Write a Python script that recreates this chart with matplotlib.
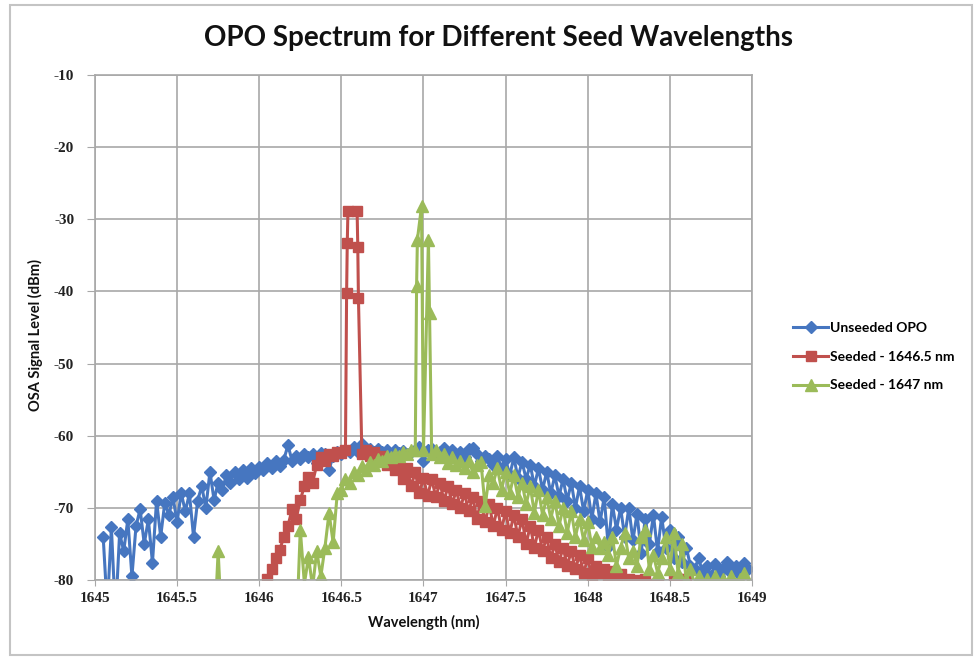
import matplotlib
matplotlib.use("Agg")
import matplotlib.pyplot as plt
import numpy as np
from matplotlib.patches import Rectangle

# OSA samples, every 0.025 nm
step_nm = 0.025

unseeded_start = 1645.05
unseeded_dbm = [
    -74.0, -84.0, -72.7, -85.0, -73.5, -76.0, -71.6, -79.5,   # 1645.05
    -72.5, -70.2, -75.0, -71.6, -77.6, -69.0, -74.0, -69.3,   # 1645.25
    -71.0, -68.5, -72.0, -67.9, -70.5, -68.0, -74.0, -69.0,   # 1645.45
    -67.0, -70.0, -65.0, -68.9, -66.5, -67.5, -65.5, -66.5,   # 1645.65
    -65.0, -66.0, -64.8, -65.8, -64.5, -65.2, -64.3, -64.8,   # 1645.85
    -63.8, -64.5, -63.5, -64.2, -63.3, -61.3, -63.5, -62.8,   # 1646.05
    -63.2, -62.5, -63.0, -62.6, -63.8, -62.4, -62.5, -64.7,   # 1646.25
    -62.8, -62.3, -62.6, -62.0, -62.3, -61.6, -62.2, -61.2,   # 1646.45
    -62.0, -61.8, -62.3, -61.8, -62.2, -62.0, -62.5, -62.0,   # 1646.65
    -62.4, -62.1, -62.6, -62.2, -62.0, -61.5, -63.5, -62.0,   # 1646.85
    -61.8, -62.5, -62.3, -61.7, -62.5, -62.0, -62.8, -62.3,   # 1647.05
    -63.0, -61.8, -61.7, -62.5, -63.5, -62.8, -63.2, -64.0,   # 1647.25
    -62.8, -64.5, -63.2, -65.5, -63.0, -65.8, -63.6, -66.0,   # 1647.45
    -64.0, -67.0, -64.5, -67.5, -65.0, -68.0, -65.5, -68.4,   # 1647.65
    -66.0, -69.0, -66.5, -70.0, -67.0, -70.5, -67.5, -71.5,   # 1647.85
    -68.0, -72.0, -68.5, -75.4, -69.5, -73.0, -70.0, -74.0,   # 1648.05
    -70.0, -74.5, -70.8, -76.2, -71.5, -75.0, -71.0, -76.0,   # 1648.25
    -71.2, -75.5, -73.0, -77.0, -74.0, -77.5, -75.5, -78.0,   # 1648.45
    -78.5, -77.0, -79.0, -78.0, -79.5, -77.8, -79.5, -78.5,   # 1648.65
    -77.5, -79.0, -78.0, -79.3, -77.6, -78.5,                 # 1648.85
]

seed1_start = 1646.05
seed1_dbm = [
    -79.8, -78.5, -77.0, -75.8, -74.0, -72.5, -70.2, -71.5,   # 1646.05
    -68.9, -67.0, -65.7, -66.5, -64.0, -62.9, -63.5, -62.5,   # 1646.25
    -62.8, -62.2, -62.4, -62.0, -62.0, -62.0, -62.0, -62.5,   # 1646.45
    -62.0, -62.8, -62.3, -63.2, -62.8, -64.0, -63.5, -64.8,   # 1646.65
    -64.0, -66.0, -64.5, -67.0, -65.0, -68.0, -65.8, -68.4,   # 1646.85
    -66.0, -68.5, -66.5, -69.0, -67.0, -69.5, -67.5, -70.0,   # 1647.05
    -68.0, -70.5, -68.5, -71.5, -69.0, -72.0, -69.5, -72.5,   # 1647.25
    -70.0, -73.0, -70.5, -73.5, -71.0, -74.0, -71.5, -75.0,   # 1647.45
    -72.5, -75.5, -73.0, -76.0, -74.0, -77.0, -75.0, -77.5,   # 1647.65
    -75.5, -78.0, -76.0, -78.5, -76.5, -79.0, -77.0, -79.5,   # 1647.85
    -78.0, -79.0, -78.5, -79.5, -78.8, -80.0, -79.2, -80.5,   # 1648.05
    -79.8, -80.5, -80.0, -81.0, -79.8, -80.5, -81.0, -80.5,   # 1648.25
    -81.0, -82.0, -81.5, -80.0, -79.8, -80.2, -79.9, -83.0,   # 1648.45
]
seed1_peak_nm = [1646.532, 1646.536, 1646.540, 1646.596, 1646.600, 1646.604]
seed1_peak_dbm = [-40.2, -33.3, -28.9, -28.9, -33.8, -40.9]

seed2_start = 1645.65
seed2_dbm = [
    -90.0, -90.0, -90.0, -88.0, -76.0, -88.0, -90.0, -90.0,   # 1645.65
    -90.0, -90.0, -90.0, -90.0, -90.0, -90.0, -90.0, -90.0,   # 1645.85
    -90.0, -90.0, -90.0, -90.0, -90.0, -90.0, -90.0, -88.0,   # 1646.05
    -73.0, -80.5, -76.8, -81.0, -76.0, -79.5, -75.5, -70.7,   # 1646.25
    -74.8, -68.0, -67.5, -66.0, -66.5, -65.0, -65.5, -64.2,   # 1646.45
    -64.8, -63.7, -64.0, -63.2, -63.5, -62.8, -63.0, -62.5,   # 1646.65
    -62.8, -62.2, -62.6, -62.0, -62.0, -62.0, -62.0, -62.0,   # 1646.85
    -62.5, -62.0, -63.0, -62.5, -63.8, -63.0, -64.0, -63.5,   # 1647.05
    -64.5, -63.5, -65.0, -64.0, -63.7, -69.8, -65.5, -66.5,   # 1647.25
    -64.5, -67.5, -65.0, -68.0, -65.5, -68.5, -66.5, -69.5,   # 1647.45
    -67.0, -70.7, -67.5, -71.0, -68.5, -71.5, -69.0, -72.5,   # 1647.65
    -70.0, -73.5, -70.5, -74.0, -71.5, -74.5, -72.0, -75.4,   # 1647.85
    -74.0, -75.5, -74.8, -76.5, -74.0, -78.0, -75.5, -73.5,   # 1648.05
    -77.0, -76.0, -78.0, -74.0, -73.0, -78.5, -76.5, -79.0,   # 1648.25
    -77.0, -74.0, -78.5, -73.5, -79.0, -75.0, -80.0, -78.5,   # 1648.45
    -80.5, -79.5, -80.5, -79.8, -80.5, -79.5, -80.5, -79.8,   # 1648.65
    -80.5, -79.5, -80.5, -79.8, -79.0, -80.5,                 # 1648.85
]
seed2_peak_nm = [1646.958, 1646.963, 1646.988, 1647.000, 1647.030, 1647.037]
seed2_peak_dbm = [-39.3, -32.8, -28.2, -62.0, -32.8, -43.0]

labels = ["Unseeded OPO", "Seeded - 1646.5 nm", "Seeded - 1647 nm"]
x_ticks = [1645, 1645.5, 1646, 1646.5, 1647, 1647.5, 1648, 1648.5, 1649]
y_ticks = [-80, -70, -60, -50, -40, -30, -20, -10]


def make_series(start, vals, peak_nm=None, peak_dbm=None):
    x = start + step_nm * np.arange(len(vals))
    y = np.array(vals, dtype=float)
    if peak_nm:
        lo, hi = min(peak_nm), max(peak_nm)
        left = x < lo
        right = x > hi
        x = np.concatenate([x[left], peak_nm, x[right]])
        y = np.concatenate([y[left], peak_dbm, y[right]])
    return x, y


fig = plt.figure(figsize=(9.77, 6.57), dpi=100)
fig.patches.append(Rectangle((0.010, 0.003), 0.985, 0.99, transform=fig.transFigure,
                             fill=False, edgecolor='#c4c4c4', lw=1.5))
ax = fig.add_axes([0.0972, 0.1172, 0.6725, 0.7686])

x0, y0 = make_series(unseeded_start, unseeded_dbm)
x1, y1 = make_series(seed1_start, seed1_dbm, seed1_peak_nm, seed1_peak_dbm)
x2, y2 = make_series(seed2_start, seed2_dbm, seed2_peak_nm, seed2_peak_dbm)

ax.plot(x0, y0, color='#4676C0', marker='D', ms=6.3, lw=2.2, label=labels[0])
ax.plot(x1, y1, color='#C0504D', marker='s', ms=7.3, lw=2.2, label=labels[1])
ax.plot(x2, y2, color='#9BBB59', marker='^', ms=8.3, lw=2.2, label=labels[2])

ax.set_xlim(1645, 1649)
ax.set_ylim(-80, -10)
ax.set_xticks(x_ticks)
ax.set_xticklabels([f"{t:g}" for t in x_ticks])
ax.set_yticks(y_ticks)
ax.set_yticklabels([f"{t:g}" for t in y_ticks])
ax.grid(True, color='#a8a8a8', lw=1.2)
ax.set_axisbelow(True)
for s in ax.spines.values():
    s.set_color('#a8a8a8')
    s.set_linewidth(1.2)
ax.tick_params(axis='y', direction='out', length=6, color='#a8a8a8', pad=9)
ax.tick_params(axis='x', direction='out', length=4, color='#a8a8a8', pad=5)
for lab in ax.get_xticklabels() + ax.get_yticklabels():
    lab.set_fontfamily('Liberation Serif')
    lab.set_fontweight('bold')
    lab.set_fontsize(11)
    lab.set_color('#222222')

fig.text(0.51, 0.942, "OPO Spectrum for Different Seed Wavelengths", ha='center', va='center',
         fontsize=20, fontweight='bold', family='Lato', color='#111111')
fig.text(0.036, 0.49, "OSA Signal Level (dBm)", rotation=90, ha='center', va='center',
         fontsize=10.5, fontweight='bold', family='Lato', color='#111111')
fig.text(0.434, 0.053, "Wavelength (nm)", ha='center', va='center',
         fontsize=10.5, fontweight='bold', family='Lato', color='#111111')

fig.legend(loc='center left', bbox_to_anchor=(0.812, 0.457), frameon=False,
           prop={'family': 'Lato', 'weight': 'bold', 'size': 10},
           handlelength=2.5, handletextpad=0.15, labelspacing=1.2, borderpad=0,
           borderaxespad=0)

fig.savefig("out.png", dpi=100)
